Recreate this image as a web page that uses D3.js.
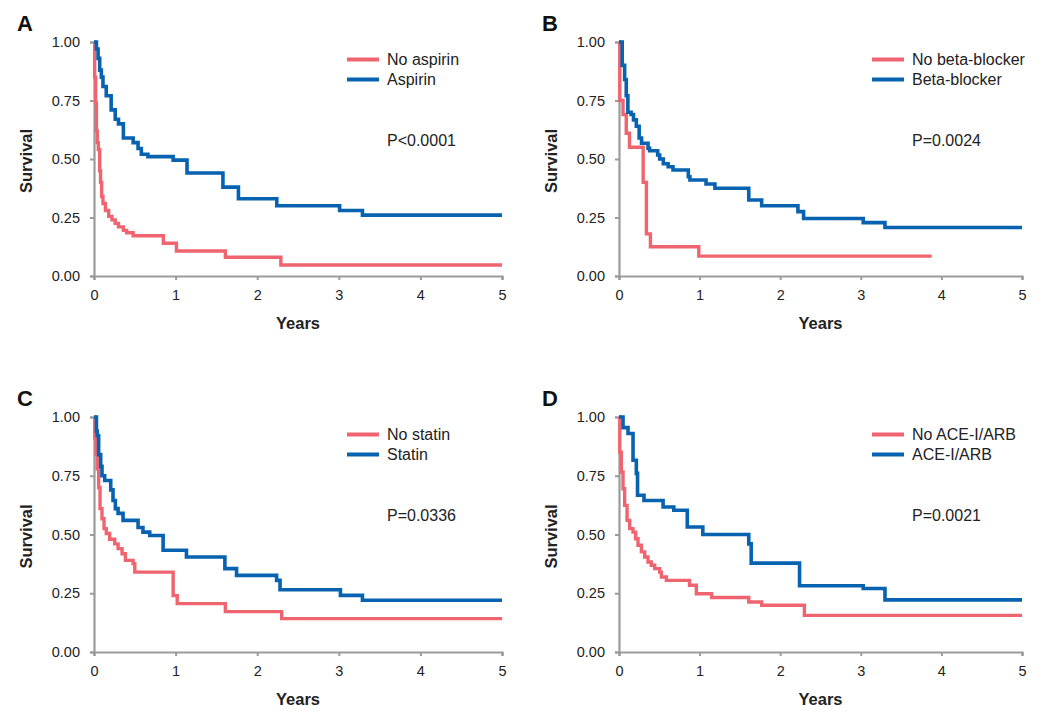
<!DOCTYPE html>
<html>
<head>
<meta charset="utf-8">
<script src="https://cdn.jsdelivr.net/npm/d3@7"></script>
<style>
  body { margin: 0; background: #fff; }
  svg { display: block; font-family: "Liberation Sans", Arial, sans-serif; }
</style>
</head>
<body>
<div id="chart-area"></div>
<script>
const W = 1050
const H = 723
const RED = "#f0646f"
const BLUE = "#0762b0"
const AXIS = "#9b9b9b"

const yearTicks = [0, 1, 2, 3, 4, 5]
const survTicks = [0, 0.25, 0.5, 0.75, 1]

// A - aspirin
const aspNoT = [0, 0.008, 0.02, 0.03, 0.04, 0.053, 0.07, 0.08, 0.094, 0.11, 0.14, 0.18, 0.22, 0.26, 0.30, 0.36, 0.40, 0.48, 0.85, 1.01, 1.61, 2.29]
const aspNoS = [1, 0.85, 0.74, 0.62, 0.57, 0.54, 0.45, 0.40, 0.34, 0.31, 0.28, 0.255, 0.24, 0.225, 0.21, 0.195, 0.185, 0.172, 0.14, 0.107, 0.08, 0.047]
const aspT = [0, 0.03, 0.05, 0.07, 0.09, 0.11, 0.15, 0.21, 0.26, 0.30, 0.36, 0.48, 0.54, 0.58, 0.66, 0.97, 1.14, 1.58, 1.77, 2.24, 3.01, 3.29]
const aspS = [1, 0.97, 0.93, 0.88, 0.85, 0.81, 0.77, 0.71, 0.67, 0.65, 0.59, 0.57, 0.545, 0.52, 0.51, 0.495, 0.44, 0.38, 0.33, 0.30, 0.28, 0.26]

// B - beta-blocker
const bbNoT = [0, 0.01, 0.05, 0.09, 0.13, 0.30, 0.34, 0.39, 0.99]
const bbNoS = [1, 0.75, 0.69, 0.61, 0.55, 0.40, 0.18, 0.125, 0.085]
const bbT = [0, 0.04, 0.07, 0.09, 0.11, 0.15, 0.18, 0.215, 0.25, 0.28, 0.36, 0.38, 0.48, 0.505, 0.55, 0.61, 0.67, 0.86, 0.88, 1.08, 1.19, 1.61, 1.77, 2.22, 2.29, 3.03, 3.30]
const bbS = [1, 0.90, 0.84, 0.77, 0.70, 0.69, 0.667, 0.64, 0.59, 0.567, 0.546, 0.535, 0.517, 0.50, 0.48, 0.467, 0.453, 0.424, 0.41, 0.393, 0.375, 0.325, 0.30, 0.275, 0.246, 0.228, 0.207]

// C - statin
const stNoT = [0, 0.01, 0.025, 0.04, 0.057, 0.074, 0.098, 0.123, 0.151, 0.192, 0.254, 0.295, 0.344, 0.385, 0.479, 0.50, 0.97, 1.02, 1.61, 2.30]
const stNoS = [1, 0.91, 0.84, 0.78, 0.70, 0.61, 0.567, 0.525, 0.504, 0.48, 0.46, 0.44, 0.418, 0.39, 0.376, 0.34, 0.24, 0.206, 0.172, 0.142]
const stT = [0, 0.03, 0.04, 0.057, 0.082, 0.098, 0.131, 0.205, 0.233, 0.262, 0.295, 0.356, 0.54, 0.60, 0.683, 0.847, 1.133, 1.604, 1.747, 2.238, 2.28, 3.02, 3.29]
const stS = [1, 0.94, 0.92, 0.84, 0.79, 0.75, 0.73, 0.69, 0.645, 0.61, 0.59, 0.56, 0.53, 0.51, 0.496, 0.433, 0.404, 0.355, 0.326, 0.305, 0.265, 0.241, 0.22]

// D - ACE-I/ARB
const aceNoT = [0, 0.01, 0.029, 0.05, 0.07, 0.10, 0.133, 0.174, 0.207, 0.236, 0.278, 0.319, 0.36, 0.40, 0.443, 0.505, 0.526, 0.588, 0.875, 0.96, 1.15, 1.61, 1.77, 2.30]
const aceNoS = [1, 0.85, 0.766, 0.695, 0.624, 0.56, 0.525, 0.51, 0.482, 0.454, 0.426, 0.404, 0.383, 0.369, 0.355, 0.34, 0.319, 0.305, 0.284, 0.248, 0.232, 0.213, 0.199, 0.156]
const aceT = [0, 0.05, 0.112, 0.174, 0.215, 0.23, 0.31, 0.547, 0.68, 0.847, 1.04, 1.61, 1.64, 2.24, 3.03, 3.30]
const aceS = [1, 0.955, 0.93, 0.816, 0.76, 0.667, 0.645, 0.617, 0.603, 0.532, 0.50, 0.46, 0.378, 0.282, 0.27, 0.222]

const panelLetters = ["A", "B", "C", "D"]
const noLabels = ["No aspirin", "No beta-blocker", "No statin", "No ACE-I/ARB"]
const yesLabels = ["Aspirin", "Beta-blocker", "Statin", "ACE-I/ARB"]
const pValues = ["P<0.0001", "P=0.0024", "P=0.0336", "P=0.0021"]
const noEnd = [5, 3.88, 5, 5]
const yesEnd = [5, 5, 5, 5]

const noT = [aspNoT, bbNoT, stNoT, aceNoT]
const noS = [aspNoS, bbNoS, stNoS, aceNoS]
const yesT = [aspT, bbT, stT, aceT]
const yesS = [aspS, bbS, stS, aceS]

// plot boxes (axis left/right, top/bottom)
const boxes = [
  { x0: 94, x1: 502, y0: 42, y1: 276 },
  { x0: 619, x1: 1022, y0: 42, y1: 276 },
  { x0: 94, x1: 502, y0: 417, y1: 652 },
  { x0: 619, x1: 1022, y0: 417, y1: 652 }
]

const svg = d3.select("#chart-area").append("svg")
  .attr("width", W)
  .attr("height", H)

function series(ts, ss, end) {
  const pts = ts.map((t, i) => [t, ss[i]])
  pts.push([end, ss[ss.length - 1]])
  return pts
}

boxes.forEach((b, i) => {
  const g = svg.append("g")

  const x = d3.scaleLinear().domain([0, 5]).range([b.x0, b.x1])
  const y = d3.scaleLinear().domain([0, 1]).range([b.y1, b.y0])

  const xAxis = g.append("g")
    .attr("transform", `translate(0, ${b.y1})`)
    .call(d3.axisBottom(x).tickValues(yearTicks).tickSize(4).tickPadding(10).tickFormat(d3.format("d")))
  const yAxis = g.append("g")
    .attr("transform", `translate(${b.x0}, 0)`)
    .call(d3.axisLeft(y).tickValues(survTicks).tickSize(4).tickPadding(10).tickFormat(d3.format(".2f")))

  ;[xAxis, yAxis].forEach(a => {
    a.select(".domain").attr("stroke", AXIS).attr("stroke-width", 2.2)
    a.selectAll(".tick line").attr("stroke", AXIS).attr("stroke-width", 2)
    a.selectAll(".tick text")
      .attr("fill", "#222")
      .attr("font-size", "14.5px")
      .attr("font-family", "Liberation Sans, Arial, sans-serif")
  })

  const line = d3.line()
    .x(d => x(d[0]))
    .y(d => y(d[1]))
    .curve(d3.curveStepAfter)

  g.append("path")
    .datum(series(noT[i], noS[i], noEnd[i]))
    .attr("fill", "none")
    .attr("stroke", RED)
    .attr("stroke-width", 3.4)
    .attr("d", line)

  g.append("path")
    .datum(series(yesT[i], yesS[i], yesEnd[i]))
    .attr("fill", "none")
    .attr("stroke", BLUE)
    .attr("stroke-width", 3.6)
    .attr("d", line)

  // legend
  const lx = b.x0 + 253
  const rows = [[noLabels[i], RED], [yesLabels[i], BLUE]]
  rows.forEach((r, k) => {
    const ly = b.y0 + 17.5 + k * 20
    g.append("line")
      .attr("x1", lx).attr("x2", lx + 32)
      .attr("y1", ly).attr("y2", ly)
      .attr("stroke", r[1])
      .attr("stroke-width", 4)
    g.append("text")
      .attr("x", lx + 40)
      .attr("y", ly + 5.5)
      .attr("font-size", "16px")
      .attr("fill", "#222")
      .text(r[0])
  })

  g.append("text")
    .attr("x", lx + 40)
    .attr("y", b.y0 + 103.5)
    .attr("font-size", "16px")
    .attr("fill", "#222")
    .text(pValues[i])

  // axis labels
  g.append("text")
    .attr("x", (b.x0 + b.x1) / 2)
    .attr("y", b.y1 + 53)
    .attr("text-anchor", "middle")
    .attr("font-size", "16.5px")
    .attr("font-weight", "700")
    .attr("fill", "#222")
    .text("Years")

  g.append("text")
    .attr("transform", `translate(${b.x0 - 62}, ${(b.y0 + b.y1) / 2 + 2}) rotate(-90)`)
    .attr("text-anchor", "middle")
    .attr("font-size", "16.5px")
    .attr("font-weight", "700")
    .attr("fill", "#222")
    .text("Survival")

  g.append("text")
    .attr("x", b.x0 - 77)
    .attr("y", b.y0 - 11)
    .attr("font-size", "22px")
    .attr("font-weight", "700")
    .attr("fill", "#111")
    .text(panelLetters[i])
})
</script>
</body>
</html>
